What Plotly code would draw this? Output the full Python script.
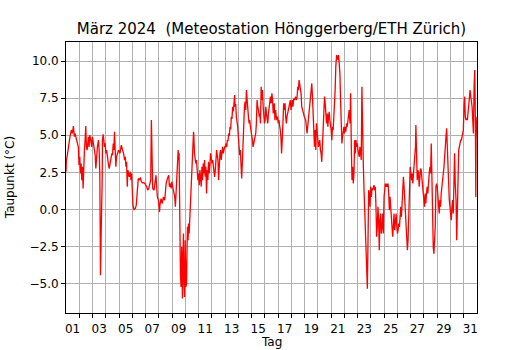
import pandas as pd
import plotly.graph_objects as go

# time in days since 2024-03-01 00:00 and dew point (°C)
t_days = [
    0.00,0.03,0.10,0.18,0.23,0.30,0.40,0.48,0.56,0.63,0.68,0.78,0.86,0.93,0.98,
    1.04,1.09,1.14,1.19,1.24,1.29,1.34,1.39,1.44,1.49,1.54,1.59,1.64,1.69,1.74,1.79,1.87,1.94,1.99,
    2.07,2.15,2.20,2.25,2.30,2.37,2.45,2.50,2.55,2.58,2.60,2.63,2.65,2.68,2.70,2.73,2.75,2.80,2.85,2.90,2.95,
    3.01,3.06,3.13,3.21,3.26,3.33,3.41,3.46,3.51,3.56,3.61,3.66,3.71,3.76,3.81,3.89,3.96,
    4.07,4.17,4.27,4.34,4.42,4.47,4.52,4.57,4.62,4.67,4.72,4.77,4.85,4.90,4.95,
    5.00,5.05,5.13,5.23,5.30,5.35,5.40,5.45,5.53,5.61,5.68,5.78,5.88,5.98,
    6.09,6.16,6.24,6.31,6.39,6.44,6.49,6.54,6.64,6.72,6.79,6.84,6.89,6.97,
    7.05,7.10,7.17,7.25,7.35,7.45,7.50,7.55,7.65,7.75,7.80,7.85,7.93,7.98,
    8.05,8.13,8.20,8.25,8.30,8.35,8.40,8.46,8.51,8.53,8.56,8.58,8.61,8.63,8.68,8.73,8.78,8.83,8.86,8.88,8.94,8.99,
    9.04,9.09,9.14,9.16,9.21,9.24,9.29,9.34,9.39,9.44,9.49,9.54,9.59,9.62,9.64,9.69,9.74,9.79,9.84,9.89,9.95,
    10.00,10.05,10.10,10.15,10.20,10.25,10.30,10.35,10.40,10.45,10.50,10.55,10.60,10.65,10.70,10.75,10.80,10.85,10.90,10.95,
    11.01,11.06,11.11,11.16,11.21,11.26,11.31,11.36,11.41,11.46,11.51,11.56,11.61,11.66,11.71,11.76,11.81,11.86,11.91,11.97,
    12.02,12.07,12.12,12.17,12.22,12.27,12.32,12.37,12.42,12.47,12.52,12.57,12.62,12.67,12.72,12.75,12.80,12.85,12.90,12.95,
    13.00,13.05,13.10,13.15,13.20,13.25,13.30,13.35,13.40,13.46,13.51,13.56,13.61,13.66,13.71,13.76,13.81,13.86,13.91,13.96,
    14.01,14.06,14.11,14.16,14.21,14.26,14.31,14.36,14.41,14.46,14.52,14.57,14.62,14.67,14.72,14.77,14.82,14.87,14.92,14.97,
    15.02,15.07,15.12,15.17,15.22,15.27,15.32,15.37,15.42,15.48,15.53,15.58,15.63,15.68,15.71,15.76,15.81,15.86,15.91,15.96,
    16.01,16.06,16.11,16.16,16.21,16.26,16.31,16.36,16.42,16.47,16.52,16.57,16.62,16.67,16.72,16.77,16.82,16.87,16.92,16.97,
    17.02,17.07,17.12,17.17,17.22,17.27,17.32,17.37,17.43,17.48,17.53,17.58,17.63,17.68,17.73,17.78,17.83,17.88,17.93,17.98,
    18.03,18.08,18.13,18.18,18.23,18.28,18.33,18.39,18.44,18.49,18.54,18.59,18.64,18.69,18.74,18.79,18.84,18.89,18.94,18.99,
    19.04,19.09,19.14,19.19,19.24,19.29,19.34,19.40,19.45,19.50,19.55,19.60,19.65,19.70,19.75,19.80,19.85,19.90,19.95,
    20.00,20.05,20.10,20.15,20.20,20.25,20.30,20.35,20.41,20.46,20.51,20.56,20.61,20.66,20.71,20.76,20.81,20.86,20.91,20.96,
    21.01,21.06,21.11,21.16,21.21,21.26,21.31,21.36,21.42,21.47,21.52,21.57,21.62,21.67,21.72,21.77,21.82,21.87,21.92,21.97,
    22.02,22.07,22.12,22.17,22.22,22.27,22.32,22.37,22.43,22.48,22.53,22.58,22.63,22.68,22.73,22.78,22.83,22.88,22.93,22.98,
    23.03,23.08,23.13,23.18,23.23,23.28,23.33,23.38,23.43,23.48,23.53,23.58,23.63,23.68,23.73,23.78,23.84,23.89,23.94,23.99,
    24.04,24.09,24.14,24.19,24.24,24.29,24.34,24.39,24.44,24.49,24.54,24.59,24.64,24.69,24.74,24.79,24.85,24.90,24.95,
    25.00,25.05,25.10,25.15,25.20,25.25,25.30,25.35,25.40,25.45,25.50,25.55,25.60,25.65,25.70,25.75,25.80,25.86,25.91,25.96,
    26.01,26.06,26.11,26.16,26.21,26.26,26.31,26.36,26.39,26.44,26.49,26.54,26.59,26.64,26.69,26.74,26.79,26.84,26.89,26.94,26.99,
    27.04,27.09,27.14,27.19,27.24,27.29,27.35,27.40,27.45,27.50,27.55,27.60,27.65,27.70,27.75,27.80,27.85,27.90,27.95,
    28.00,28.05,28.10,28.15,28.20,28.25,28.30,28.36,28.41,28.46,28.51,28.56,28.61,28.66,28.71,28.76,28.81,28.86,28.91,28.96,
    29.01,29.06,29.11,29.16,29.21,29.26,29.31,29.36,29.42,29.47,29.52,29.57,29.62,29.67,29.72,29.77,29.82,29.87,29.92,29.97,
    30.02,30.07,30.12,30.17,30.22,30.27,30.32,30.37,30.43,30.48,30.53,30.58,30.63,30.68,30.73,30.78,30.83,30.88,30.91,30.93,30.98,31.00,
]

taupunkt = [
    2.54,3.33,3.66,4.22,4.67,4.90,5.35,5.12,5.62,4.90,5.12,4.67,4.56,4.22,2.99,
    3.55,2.43,3.10,1.98,2.88,1.42,3.33,4.00,4.67,5.62,4.22,4.00,4.45,4.90,4.22,5.01,4.67,4.22,4.90,
    4.45,4.22,3.66,2.76,3.78,4.22,4.67,4.00,2.43,-2.07,-4.43,-2.97,-1.62,-0.72,-0.04,1.98,4.67,5.06,4.67,4.22,4.45,
    3.78,4.00,3.33,2.99,2.76,3.10,3.33,3.78,3.66,4.45,4.00,5.24,4.00,2.88,3.55,3.78,4.00,
    3.78,4.34,4.00,3.78,3.33,3.55,2.88,3.21,1.53,2.65,2.43,2.20,2.54,1.98,2.43,
    1.08,0.29,0.00,0.07,0.29,0.85,1.53,2.09,1.98,2.16,1.87,1.80,1.80,1.71,
    1.53,1.30,1.42,1.75,1.98,6.02,1.75,1.42,1.30,1.98,2.31,1.53,0.85,0.63,
    -0.16,0.40,0.74,0.40,0.85,0.63,1.30,1.75,2.09,2.31,1.53,1.75,1.42,1.87,
    1.53,1.08,0.85,0.18,1.08,2.88,3.55,4.00,3.33,3.78,1.30,-1.17,-3.42,-4.31,-5.21,-2.52,-6.00,-2.07,-1.62,-4.31,-5.89,-2.07,
    -5.21,-4.99,-2.07,-1.17,-2.07,-0.94,-1.62,-0.72,0.40,1.75,2.43,3.78,4.67,5.24,5.01,3.78,3.55,3.10,3.33,2.65,1.98,
    2.43,1.64,2.65,2.20,1.53,2.88,1.98,3.10,2.43,3.33,2.20,2.88,1.08,2.65,1.98,3.21,2.43,2.88,3.78,3.55,
    3.10,3.33,2.88,2.65,2.20,2.65,3.78,4.00,3.66,3.33,1.98,3.10,3.78,4.00,3.33,3.78,4.22,3.78,4.00,4.22,
    4.22,4.45,4.20,4.67,4.60,5.12,4.95,5.57,5.40,6.25,6.10,6.92,6.60,7.48,7.71,6.92,7.10,6.25,6.02,5.57,
    4.90,4.22,3.66,4.00,3.33,2.09,3.10,4.45,6.02,6.92,7.26,6.70,8.04,7.15,6.70,6.25,5.80,6.02,5.57,5.35,
    5.12,4.67,4.22,4.45,4.67,4.90,5.12,5.80,7.37,6.92,6.70,6.25,6.47,5.80,8.27,7.37,8.04,6.92,6.25,5.80,
    6.02,6.92,6.47,6.02,5.80,6.47,6.92,7.37,7.60,7.15,7.82,7.37,6.47,6.92,7.15,6.02,6.70,6.25,6.02,6.25,
    5.80,6.02,5.80,5.35,4.90,3.78,4.67,6.25,7.15,6.70,7.15,6.25,5.80,6.25,6.47,6.70,6.92,7.15,7.37,6.70,
    7.15,7.37,6.92,7.48,7.37,7.60,7.60,7.37,7.60,8.27,8.04,8.72,8.49,8.04,7.82,6.92,6.70,6.58,6.47,6.25,
    6.13,6.02,5.57,5.12,5.57,6.02,6.47,6.92,7.37,7.82,8.49,7.60,6.70,6.02,4.22,5.35,4.00,5.80,5.35,4.67,
    4.22,4.45,4.67,4.00,3.78,3.21,4.22,5.80,6.92,7.60,7.15,6.25,5.80,6.47,5.57,6.25,6.58,6.02,5.80,
    5.35,4.67,5.57,5.35,6.02,6.92,8.04,9.62,10.40,10.29,10.07,10.40,9.84,9.17,7.37,5.12,4.45,4.90,5.35,5.57,
    5.12,5.57,5.24,5.80,5.57,6.02,6.47,6.70,5.80,7.82,4.22,1.98,2.88,1.75,2.43,4.67,3.78,4.67,4.22,4.45,
    4.00,3.78,3.55,4.22,3.78,3.33,8.27,3.55,2.88,1.30,-0.27,-2.07,-2.52,-4.31,-5.33,-2.07,1.30,1.08,0.18,1.53,
    0.85,1.42,1.30,1.53,1.64,1.30,1.53,0.18,-1.84,-1.17,0.18,-0.72,-2.74,-0.72,-0.27,-1.62,-1.17,-0.27,-1.62,0.85,
    1.53,1.75,1.53,1.75,1.53,1.75,1.08,-0.04,0.85,0.18,-0.27,-0.72,-1.84,-1.17,-0.27,-1.39,-0.72,-0.27,-1.17,
    -1.62,-1.39,-0.94,-1.17,-0.72,0.18,-0.49,0.18,1.30,2.20,1.53,0.63,-0.04,-1.17,-2.07,-2.74,-2.07,-0.27,1.53,2.88,
    2.43,1.98,2.43,1.75,2.43,2.88,3.33,4.22,5.69,2.65,1.98,2.65,2.43,1.53,1.98,2.76,2.65,2.20,1.98,1.53,0.85,
    0.18,1.08,0.40,1.08,1.53,1.08,2.20,2.43,2.88,2.43,4.45,1.98,-1.17,-2.52,-2.97,-2.29,-1.17,1.53,1.75,
    1.53,0.63,0.18,-0.27,0.63,0.18,1.08,1.53,1.98,2.43,2.88,3.55,4.67,4.90,5.46,4.22,2.88,1.08,0.63,0.18,
    -0.27,-0.72,0.18,0.63,-0.27,1.08,3.78,1.75,0.63,-2.07,-0.72,1.98,4.00,4.22,4.67,4.67,4.67,4.90,5.12,5.35,
    6.92,7.60,6.25,6.02,6.13,6.02,6.47,6.92,7.82,8.04,7.60,7.37,6.92,6.02,5.12,8.27,9.39,5.80,0.85,4.67,6.02,6.25,
]

day_labels = ["01","03","05","07","09","11","13","15","17","19","21","23","25","27","29","31"]
y_ticks = [-5.0, -2.5, 0.0, 2.5, 5.0, 7.5, 10.0]
y_ticktext = ["\u22125.0", "\u22122.5", "0.0", "2.5", "5.0", "7.5", "10.0"]

assert len(t_days) == len(taupunkt)

start = pd.Timestamp("2024-03-01")
x = start + pd.to_timedelta(t_days, unit="D")
label_pos = [start + pd.Timedelta(days=int(d) - 1, hours=12) for d in day_labels]
midnights = list(pd.date_range("2024-03-02", "2024-03-31", freq="D"))

fig = go.Figure()
fig.add_trace(go.Scatter(x=x, y=taupunkt, mode="lines",
                         line=dict(color="red", width=1.3), showlegend=False))

axis_common = dict(showline=True, mirror=True, linecolor="black", linewidth=1,
                   zeroline=False, tickfont=dict(size=12, color="black"))

W, H = 530, 350
fig.update_layout(
    width=W, height=H,
    margin=dict(l=66, r=53, t=42, b=37),
    paper_bgcolor="white", plot_bgcolor="white",
    font=dict(family="DejaVu Sans", color="black", size=12),
    title=dict(text="März 2024  (Meteostation Hönggerberg/ETH Zürich)",
               x=0.5, xref="paper", xanchor="center",
               y=1 - 28.5 / H, yref="container", yanchor="middle",
               font=dict(size=15, color="black")),
    xaxis=dict(type="date",
               range=[start, start + pd.Timedelta(days=31)],
               tickmode="array", tickvals=label_pos, ticktext=day_labels,
               ticks="", showgrid=False, ticklabelstandoff=5,
               minor=dict(tickmode="array", tickvals=midnights, ticks="outside",
                          ticklen=4, tickcolor="black", tickwidth=1,
                          showgrid=True, gridcolor="#b0b0b0", gridwidth=1),
               **axis_common),
    yaxis=dict(range=[-6.97, 11.28], tickmode="array", tickvals=y_ticks,
               ticktext=y_ticktext, ticks="outside", ticklen=4, tickcolor="black",
               showgrid=True, gridcolor="#b0b0b0", gridwidth=1,
               **axis_common),
    annotations=[
        dict(text="Tag", xref="paper", yref="paper", x=0.5, y=-0.107,
             xanchor="center", yanchor="middle", showarrow=False, borderpad=0,
             font=dict(size=12, color="black")),
        dict(text="Taupunkt (°C)", xref="paper", yref="paper", x=-0.137, y=0.5,
             xanchor="center", yanchor="middle", textangle=-90, showarrow=False,
             font=dict(size=12, color="black")),
    ],
)

fig.write_html("out.html", config={"displayModeBar": False},
               post_script="document.body.style.margin='0';document.body.style.overflow='hidden';")
